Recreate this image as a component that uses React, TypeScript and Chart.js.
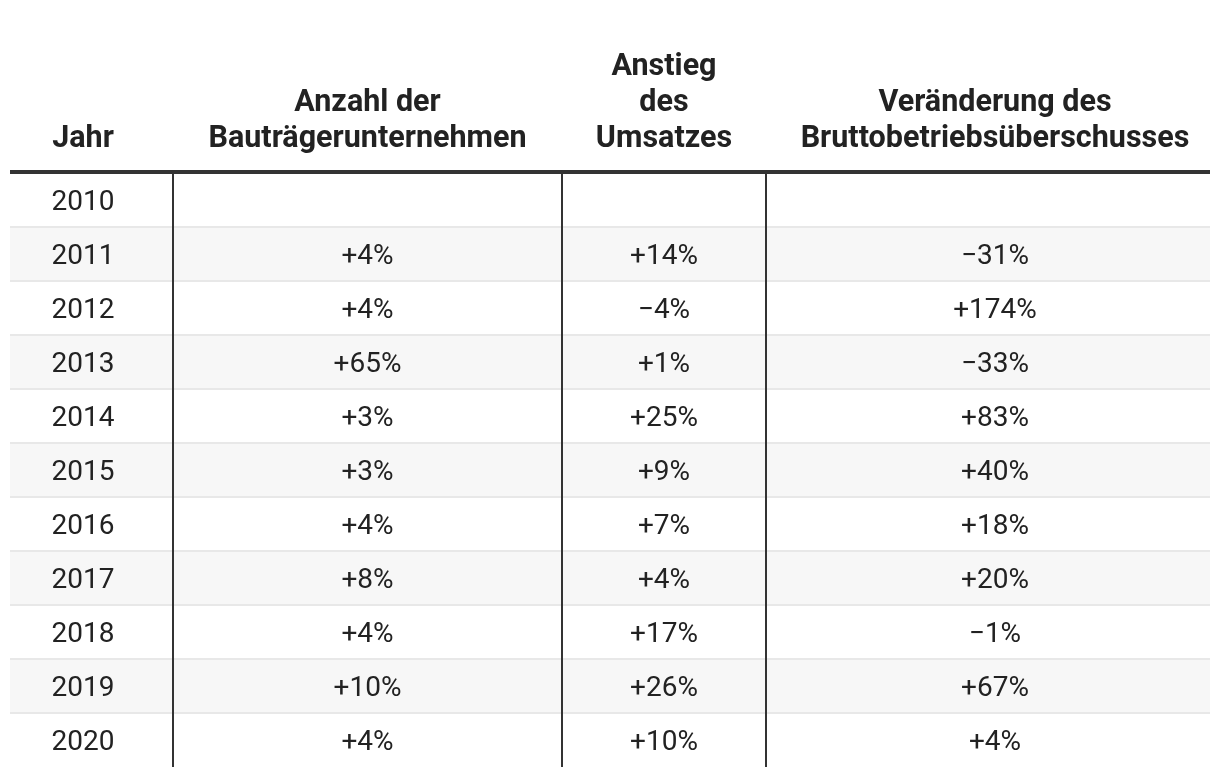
import React, { useEffect, useRef } from "react";
import { Chart, registerables } from "chart.js";

Chart.register(...registerables);

// ---- data ----
const years = ["2010", "2011", "2012", "2013", "2014", "2015", "2016", "2017", "2018", "2019", "2020"];
const headers: string[][] = [
  ["Jahr"],
  ["Anzahl der", "Bauträgerunternehmen"],
  ["Anstieg", "des", "Umsatzes"],
  ["Veränderung des", "Bruttobetriebsüberschusses"],
];
const anzahlBautraeger: (number | null)[] = [null, 4, 4, 65, 3, 3, 4, 8, 4, 10, 4];
const anstiegUmsatz: (number | null)[] = [null, 14, -4, 1, 25, 9, 7, 4, 17, 26, 10];
const veraenderungBBU: (number | null)[] = [null, -31, 174, -33, 83, 40, 18, 20, -1, 67, 4];

// ---- layout (styles) ----
const colWidths = [163, 389, 204, 444];
const textShift = [-8.5, 0, 0, 7];
const FONT = "Roboto, 'Noto Sans', sans-serif";
const TEXT = "#222222";
const DARK = "#333333";

const fmt = (v: number | null) => (v === null ? "" : v > 0 ? `+${v}%` : v < 0 ? `\u2212${Math.abs(v)}%` : "0%");

const colStart = (c: number) => colWidths.slice(0, c).reduce((a, b) => a + b, 0);
const colCenter = (c: number) => colStart(c) + colWidths[c] / 2 + textShift[c];

const columnsText: string[][] = [
  years,
  anzahlBautraeger.map(fmt),
  anstiegUmsatz.map(fmt),
  veraenderungBBU.map(fmt),
];

const tablePlugin = {
  id: "tablePlugin",
  beforeDatasetsDraw(chart: any) {
    const { ctx, chartArea, scales } = chart;
    const y = scales.y;
    const half = (y.getPixelForValue(1) - y.getPixelForValue(0)) / 2;
    ctx.save();
    years.forEach((_, i) => {
      if (i % 2 === 1) {
        const cy = y.getPixelForValue(i);
        ctx.fillStyle = "#f7f7f7";
        ctx.fillRect(chartArea.left, cy - half, chartArea.right - chartArea.left, half * 2);
      }
    });
    ctx.strokeStyle = "#e8e8e8";
    ctx.lineWidth = 2;
    years.forEach((_, i) => {
      if (i > 0) {
        const yy = y.getPixelForValue(i) - half;
        ctx.beginPath();
        ctx.moveTo(chartArea.left, yy);
        ctx.lineTo(chartArea.right, yy);
        ctx.stroke();
      }
    });
    ctx.restore();
  },
  afterDatasetsDraw(chart: any) {
    const { ctx, chartArea, scales } = chart;
    const x = scales.x;
    ctx.save();
    ctx.fillStyle = TEXT;
    ctx.font = `400 28px ${FONT}`;
    ctx.textAlign = "center";
    ctx.textBaseline = "middle";
    chart.data.datasets.forEach((ds: any, di: number) => {
      const meta = chart.getDatasetMeta(di);
      meta.data.forEach((pt: any, i: number) => {
        const label = columnsText[di][i];
        if (label) ctx.fillText(label, pt.x, pt.y + 3);
      });
    });
    ctx.strokeStyle = DARK;
    ctx.lineWidth = 2;
    for (let c = 1; c < colWidths.length; c++) {
      const xx = x.getPixelForValue(colStart(c));
      ctx.beginPath();
      ctx.moveTo(xx, chartArea.top);
      ctx.lineTo(xx, chartArea.bottom);
      ctx.stroke();
    }
    ctx.lineWidth = 4;
    ctx.beginPath();
    ctx.moveTo(chartArea.left, chartArea.top - 1);
    ctx.lineTo(chartArea.right, chartArea.top - 1);
    ctx.stroke();
    ctx.fillStyle = TEXT;
    ctx.font = `700 30.5px ${FONT}`;
    ctx.textBaseline = "alphabetic";
    headers.forEach((lines, c) => {
      const cx = x.getPixelForValue(colCenter(c));
      const n = lines.length;
      lines.forEach((line, li) => {
        const by = chartArea.top - 26 - (n - 1 - li) * 36;
        ctx.fillText(line, cx, by);
      });
    });
    ctx.restore();
  },
};

export default function App() {
  const ref = useRef<HTMLCanvasElement>(null);
  useEffect(() => {
    if (!ref.current) return;
    const datasets = columnsText.map((col, c) => ({
      label: headers[c].join(" "),
      data: years.map((yr) => ({ x: colCenter(c), y: yr })),
      pointRadius: 0,
      showLine: false,
    }));
    const chart = new Chart(ref.current, {
      type: "scatter",
      data: { datasets } as any,
      options: {
        animation: false,
        responsive: false,
        devicePixelRatio: 1,
        layout: { padding: { top: 173, bottom: 9, left: 10, right: 10 } },
        plugins: { legend: { display: false }, tooltip: { enabled: false } },
        scales: {
          x: { type: "linear", min: 0, max: colWidths.reduce((a, b) => a + b, 0), display: false },
          y: { type: "category", labels: years, offset: true, display: false },
        },
        events: [],
      } as any,
      plugins: [tablePlugin],
    });
    return () => chart.destroy();
  }, []);
  return (
    <div style={{ position: "absolute", left: 0, top: 0, width: 1220, height: 776, background: "#fff" }}>
      <canvas ref={ref} width={1220} height={776} style={{ display: "block" }} />
    </div>
  );
}
